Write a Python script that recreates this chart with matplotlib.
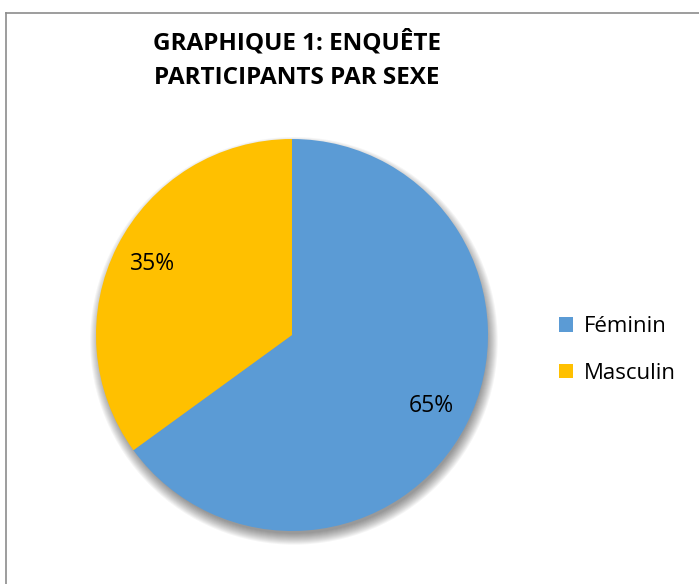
import matplotlib
matplotlib.use('Agg')
import matplotlib.pyplot as plt
from matplotlib.patches import Circle, Patch
from matplotlib.lines import Line2D

# Data
categories = ['Féminin', 'Masculin']
shares = [65, 35]
colors = ['#5B9BD5', '#FFC000']
title = 'GRAPHIQUE 1: ENQUÊTE\nPARTICIPANTS PAR SEXE'

plt.rcParams['font.family'] = ['Open Sans', 'DejaVu Sans']

W, H = 699, 584
fig = plt.figure(figsize=(W / 100, H / 100), dpi=100)

# pie centre (292, 335) px, radius 196 px
cx, cy, r = 292, 335, 196
ax = fig.add_axes([(cx - r) / W, (H - cy - r) / H, 2 * r / W, 2 * r / H])
ax.set_xlim(-1, 1)
ax.set_ylim(-1, 1)
ax.axis('off')

# soft shadow under the pie
for k in range(12):
    ax.add_patch(Circle((0.01, -0.03), 0.985 + 0.005 * k, facecolor='black',
                        alpha=0.04, lw=0, zorder=0, clip_on=False))

wedges, texts, autotexts = ax.pie(
    shares, colors=colors, startangle=90, counterclock=False,
    autopct='%1.0f%%', pctdistance=0.8, radius=1.0,
    wedgeprops=dict(linewidth=0), textprops=dict(fontsize=16.5, color='black'))
for w in wedges:
    w.set_zorder(2)
    w.set_clip_on(False)
for t in autotexts:
    t.set_zorder(3)
ax.set_xlim(-1, 1)
ax.set_ylim(-1, 1)

fig.text(297 / W, 1 - 60 / H, title, ha='center', va='center',
         fontsize=17.5, fontweight='bold', linespacing=1.6)

handles = [Patch(facecolor=c, edgecolor='none') for c in colors]
fig.legend(handles, categories, loc='center left',
           bbox_to_anchor=(539 / W, 1 - 350 / H), frameon=False,
           fontsize=16, handlelength=0.65, handleheight=0.65,
           handletextpad=0.45, labelspacing=1.15)

# chart border (top and left edges visible)
fig.add_artist(Line2D([6 / W, 1.0], [1 - 13 / H, 1 - 13 / H],
                      color='#8c8c8c', lw=1.2, transform=fig.transFigure))
fig.add_artist(Line2D([6 / W, 6 / W], [0, 1 - 13 / H],
                      color='#8c8c8c', lw=1.2, transform=fig.transFigure))

fig.savefig('out.png', dpi=100)
